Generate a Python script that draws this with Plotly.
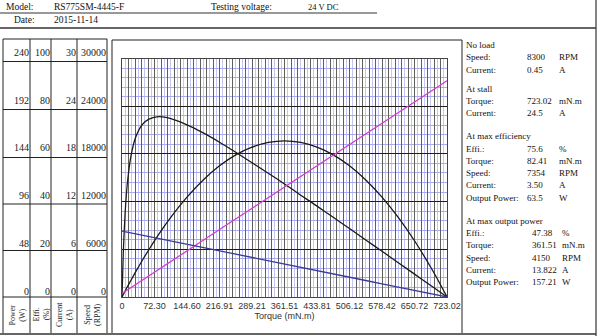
import plotly.graph_objects as go

# ---------------- data ----------------
torque = [0, 3, 7, 12, 20, 30, 45, 60, 82.41, 108.45, 144.60, 180.76, 216.91, 253.06,
          289.21, 325.36, 361.51, 397.66, 433.81, 469.96, 506.12, 542.27, 578.42,
          614.57, 650.72, 686.87, 705, 723.02]
speed_rpm = [8300, 8266, 8220, 8162, 8070, 7956, 7783, 7611, 7354, 7055, 6640, 6225,
             5810, 5395, 4980, 4565, 4150, 3735, 3320, 2905, 2490, 2075, 1660, 1245,
             830, 415, 207, 0]
current_a = [0.45, 0.56, 0.71, 0.89, 1.19, 1.56, 2.12, 2.67, 3.50, 4.46, 5.80, 7.14,
             8.48, 9.82, 11.15, 12.49, 13.83, 15.17, 16.51, 17.84, 19.18, 20.52, 21.86,
             23.20, 24.53, 25.87, 26.54, 27.21]
efficiency_pct = [0, 19.3, 35.4, 47.8, 59.2, 66.8, 72.3, 74.6, 75.6, 74.8, 72.2, 68.8,
                  64.9, 60.7, 56.3, 51.9, 47.4, 42.7, 38.1, 33.4, 28.7, 23.9, 19.2,
                  14.4, 9.6, 4.8, 2.4, 0]
power_w = [0, 2.6, 6.0, 10.3, 16.9, 25.0, 36.7, 47.8, 63.5, 80.1, 100.5, 117.8, 132.0,
           143.0, 150.8, 155.5, 157.2, 155.5, 150.8, 143.0, 132.0, 117.8, 100.5, 80.1,
           56.6, 29.9, 15.3, 0]

torque_tick_labels = ["0", "72.30", "144.60", "216.91", "289.21", "361.51", "433.81",
                      "506.12", "578.42", "650.72", "723.02"]
torque_max = 723.02
power_ticks = [0, 48, 96, 144, 192, 240]
eff_ticks = [0, 20, 40, 60, 80, 100]
current_ticks = [0, 6, 12, 18, 24, 30]
speed_ticks = [0, 6000, 12000, 18000, 24000, 30000]
column_titles = ["Power<br>(W)", "Effi.<br>(%)", "Current<br>(A)", "Speed<br>(RPM)"]

header_model = "RS775SM-4445-F"
header_date = "2015-11-14"
header_voltage = "24 V DC"

info_sections = [
    ("No load", [("Speed:", "8300", "RPM"), ("Current:", "0.45", "A")]),
    ("At stall", [("Torque:", "723.02", "mN.m"), ("Current:", "24.5", "A")]),
    ("At max efficiency", [("Effi.:", "75.6", "%"), ("Torque:", "82.41", "mN.m"),
                           ("Speed:", "7354", "RPM"), ("Current:", "3.50", "A"),
                           ("Output Power:", "63.5", "W")]),
    ("At max output power", [("Effi.:", "47.38", "%"), ("Torque:", "361.51", "mN.m"),
                             ("Speed:", "4150", "RPM"), ("Current:", "13.822", "A"),
                             ("Output Power:", "157.21", "W")]),
]

# ---------------- layout helpers ----------------
W, H = 600, 336
def fx(px):
    return px / W
def fy(py):
    return 1 - py / H

SERIF = "Liberation Serif, Times New Roman, serif"
SANS = "Liberation Sans, Arial, sans-serif"

PX0, PX1 = 122, 447
PY_TOP, PY_BOT = 58.5, 297

fig = go.Figure()

fig.add_trace(go.Scatter(x=torque, y=speed_rpm, yaxis="y5", mode="lines",
                         line=dict(color="#3a3a9c", width=1.3), showlegend=False))
fig.add_trace(go.Scatter(x=torque, y=current_a, yaxis="y4", mode="lines",
                         line=dict(color="#d23ed2", width=1.3), showlegend=False))
fig.add_trace(go.Scatter(x=torque, y=efficiency_pct, yaxis="y3", mode="lines",
                         line=dict(color="#1a1a1a", width=1.3, shape="spline", smoothing=0.6),
                         showlegend=False))
fig.add_trace(go.Scatter(x=torque, y=power_w, yaxis="y", mode="lines",
                         line=dict(color="#1a1a1a", width=1.3, shape="spline", smoothing=0.6),
                         showlegend=False))
# same power series attached to the power label axis (invisible) so that axis is drawn
fig.add_trace(go.Scatter(x=torque, y=power_w, yaxis="y2", mode="lines", opacity=0,
                         hoverinfo="skip", line=dict(width=0), showlegend=False))

n_major = 50
step = torque_max / n_major
grid_vals = [i * step for i in range(n_major + 1)]
grid_text = [torque_tick_labels[i // 5] if i % 5 == 0 else "" for i in range(n_major + 1)]
minor_vals = [(i + 0.5) * step for i in range(n_major)]

fig.update_layout(
    width=W, height=H,
    margin=dict(l=0, r=0, t=0, b=0),
    paper_bgcolor="white", plot_bgcolor="white",
    showlegend=False,
    xaxis=dict(
        domain=[fx(PX0), fx(PX1)], range=[0, torque_max], automargin=False,
        tickmode="array", tickvals=grid_vals, ticktext=grid_text, ticks="",
        showgrid=True, gridcolor="#5e5e5e", gridwidth=1,
        minor=dict(tickmode="array", tickvals=minor_vals, showgrid=True,
                   gridcolor="#c6c6f2", gridwidth=1),
        showline=True, mirror=True, linecolor="#444", linewidth=1,
        zeroline=False,
        tickfont=dict(family=SANS, size=9, color="#333"),
        title=dict(text="Torque (mN.m)", font=dict(family=SANS, size=9, color="#333"),
                   standoff=0),
    ),
    yaxis=dict(
        domain=[fy(PY_BOT), fy(PY_TOP)], range=[0, 240], automargin=False,
        tickmode="array", tickvals=power_ticks, showticklabels=False, ticks="",
        showgrid=True, gridcolor="#1e1e1e", gridwidth=1,
        minor=dict(dtick=9.6, tick0=0, showgrid=True, gridcolor="#aaaaee", gridwidth=1),
        showline=True, mirror=True, linecolor="#444", linewidth=1, zeroline=False,
    ),
)

def label_axis(values, rng, pos_px):
    return dict(
        overlaying="y", anchor="free", position=fx(pos_px), side="left",
        range=rng, tickmode="array", tickvals=values, ticktext=[str(v) for v in values],
        ticks="", showgrid=False, showline=False, zeroline=False, automargin=False,
        ticklabelshift=-6, ticklabelstandoff=1,
        tickfont=dict(family=SERIF, size=10, color="#222"),
    )

fig.update_layout(
    yaxis2=label_axis(power_ticks, [0, 240], 30),
    yaxis3=label_axis(eff_ticks, [0, 100], 51),
    yaxis4=label_axis(current_ticks, [0, 30], 77),
    yaxis5=label_axis(speed_ticks, [0, 30000], 107),
)

shapes = []
def line(x0, y0, x1, y1, w=1, c="#222"):
    shapes.append(dict(type="line", xref="paper", yref="paper",
                       x0=fx(x0), y0=fy(y0), x1=fx(x1), y1=fy(y1),
                       line=dict(color=c, width=w)))

# header frame
line(0, 13, 377, 13, 1, "#333")
line(0, 28, 596, 28, 1.6, "#333")
line(596, 0, 596, 336, 1.2, "#333")
line(0, 334, 596, 334, 1.6, "#333")
# left table
line(3, 39, 107, 39)
line(3, 39, 3, 333)
for xv in (30, 51, 77, 107):
    line(xv, 39, xv, 333)
for yv in (61.5, 109.5, 157.5, 204, 250.5, 297):
    line(3, yv, 107, yv)
# chart panel box
line(112, 40, 462, 40)
line(112, 40, 112, 333)
line(462, 40, 462, 333)

fig.update_layout(shapes=shapes)

ann = []
def text(s, x, y, size=10, family=SERIF, anchor="left", angle=0, color="#111"):
    ann.append(dict(text=s, x=fx(x), y=fy(y), xref="paper", yref="paper",
                    xanchor=anchor, yanchor="middle", showarrow=False, textangle=angle,
                    font=dict(family=family, size=size, color=color)))

text("Model:", 4, 7, size=9.5)
text(header_model, 52, 7, size=9.5)
text("Testing voltage:", 209, 7, size=9.5)
text(header_voltage, 306, 7, size=8.5)
text("Date:", 12, 20, size=9.5)
text(header_date, 52, 20, size=9.5)

col_centers = [16.5, 40.5, 64, 92]
for cx, t in zip(col_centers, column_titles):
    ann.append(dict(text=t, x=fx(cx), y=fy(315), xref="paper", yref="paper",
                    xanchor="center", yanchor="middle", showarrow=False, textangle=-90,
                    font=dict(family=SERIF, size=8, color="#222")))

y = 45
section_gaps = [0, 19, 23, 23]
value_x = [525, 525, 525, 530]
unit_x = [557, 557, 557, 560]
for si, (title, rows) in enumerate(info_sections):
    y += section_gaps[si]
    text(title, 464, y, size=9)
    for (lab, val, unit) in rows:
        y += 12.3
        text(lab, 464, y, size=9)
        text(val, value_x[si], y, size=9)
        text(unit, unit_x[si], y, size=9)

fig.update_layout(annotations=ann)

fig.write_html("out.html")
